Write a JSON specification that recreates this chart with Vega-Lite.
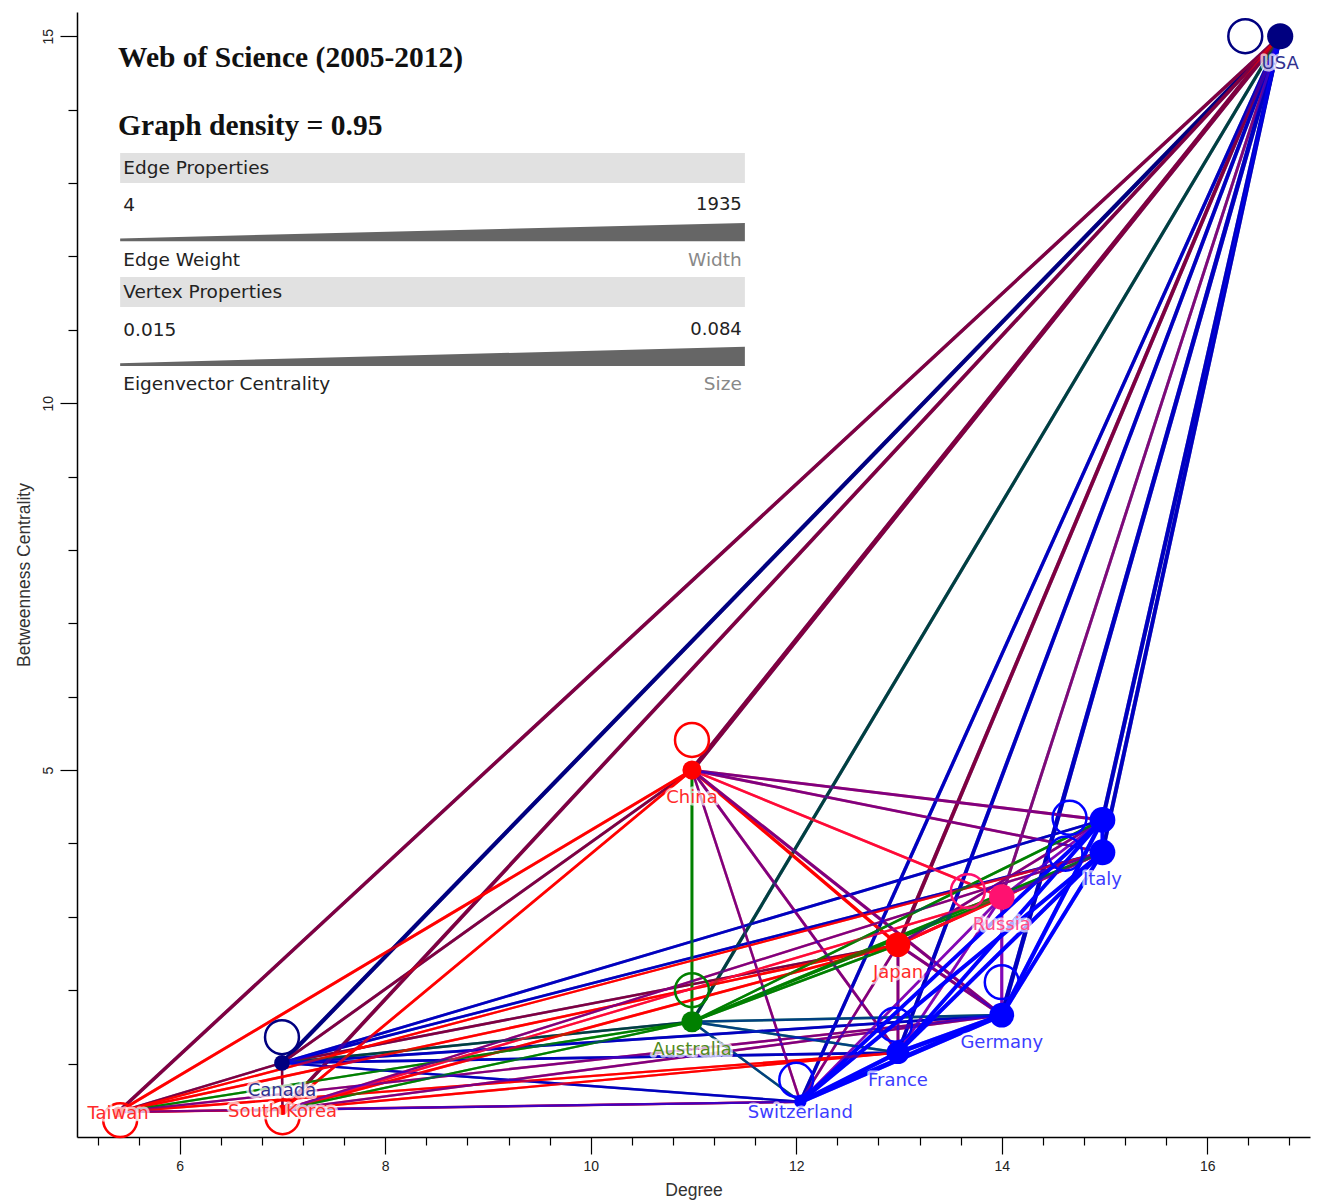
{
  "$schema": "https://vega.github.io/schema/vega-lite/v6.json",
  "width": 1233,
  "height": 1125,
  "autosize": {"type": "none"},
  "padding": {"left": 77, "top": 12, "right": 10, "bottom": 67},
  "background": "white",
  "config": {
    "view": {"stroke": null},
    "axis": {
      "domainColor": "#000", "tickColor": "#000", "domainWidth": 1.5, "tickWidth": 1.2, "grid": false,
      "labelFont": "Liberation Sans", "labelFontSize": 14, "labelColor": "#222",
      "titleFont": "Liberation Sans", "titleFontSize": 17.5, "titleFontWeight": "normal", "titleColor": "#333"
    }
  },
  "datasets": {
    "nodes": [
      {"name": "USA", "label": "USA", "region": "North America", "deg": 16.71, "btw": 15.0, "eig": 0.082},
      {"name": "China", "label": "China", "region": "East Asia", "deg": 10.985, "btw": 5.0, "eig": 0.045},
      {"name": "Italy", "label": "Italy", "region": "Europe", "deg": 14.98, "btw": 3.88, "eig": 0.08},
      {"name": "Node13", "label": "", "region": "Europe", "deg": 14.98, "btw": 4.32, "eig": 0.08},
      {"name": "Russia", "label": "Russia", "region": "Russia", "deg": 14.0, "btw": 3.27, "eig": 0.078},
      {"name": "Japan", "label": "Japan", "region": "East Asia", "deg": 12.99, "btw": 2.62, "eig": 0.074},
      {"name": "Germany", "label": "Germany", "region": "Europe", "deg": 14.0, "btw": 1.66, "eig": 0.074},
      {"name": "Australia", "label": "Australia", "region": "Oceania", "deg": 10.985, "btw": 1.57, "eig": 0.054},
      {"name": "France", "label": "France", "region": "Europe", "deg": 12.99, "btw": 1.15, "eig": 0.064},
      {"name": "Canada", "label": "Canada", "region": "North America", "deg": 6.995, "btw": 1.01, "eig": 0.031},
      {"name": "Switzerland", "label": "Switzerland", "region": "Europe", "deg": 12.04, "btw": 0.48, "eig": 0.02},
      {"name": "South Korea", "label": "South Korea", "region": "East Asia", "deg": 7.0, "btw": 0.37, "eig": 0.015},
      {"name": "Taiwan", "label": "Taiwan", "region": "East Asia", "deg": 5.4, "btw": 0.34, "eig": 0.015}
    ],
    "loops": [
      {"name": "USA", "region": "North America", "lx": 16.37, "ly": 15.0},
      {"name": "China", "region": "East Asia", "lx": 10.985, "ly": 5.41},
      {"name": "Canada", "region": "North America", "lx": 6.995, "ly": 1.36},
      {"name": "Australia", "region": "Oceania", "lx": 10.985, "ly": 2.0},
      {"name": "Germany", "region": "Europe", "lx": 14.0, "ly": 2.11},
      {"name": "Node13", "region": "Europe", "lx": 14.66, "ly": 4.35},
      {"name": "Italy", "region": "Europe", "lx": 14.62, "ly": 3.86},
      {"name": "Switzerland", "region": "Europe", "lx": 12.0, "ly": 0.78},
      {"name": "Taiwan", "region": "East Asia", "lx": 5.42, "ly": 0.23},
      {"name": "South Korea", "region": "East Asia", "lx": 7.0, "ly": 0.27},
      {"name": "France", "region": "Europe", "lx": 12.96, "ly": 1.53},
      {"name": "Russia", "region": "Russia", "lx": 13.67, "ly": 3.35}
    ],
    "edges": [
      {"s": "USA", "t": "Canada", "w": 1100, "sx": 16.71, "sy": 15.0, "sg": "North America", "tx": 6.995, "ty": 1.01, "tg": "North America"},
      {"s": "USA", "t": "China", "w": 1500, "sx": 16.71, "sy": 15.0, "sg": "North America", "tx": 10.985, "ty": 5.0, "tg": "East Asia"},
      {"s": "USA", "t": "Japan", "w": 900, "sx": 16.71, "sy": 15.0, "sg": "North America", "tx": 12.99, "ty": 2.62, "tg": "East Asia"},
      {"s": "USA", "t": "Taiwan", "w": 700, "sx": 16.71, "sy": 15.0, "sg": "North America", "tx": 5.4, "ty": 0.34, "tg": "East Asia"},
      {"s": "USA", "t": "South Korea", "w": 800, "sx": 16.71, "sy": 15.0, "sg": "North America", "tx": 7.0, "ty": 0.37, "tg": "East Asia"},
      {"s": "USA", "t": "Russia", "w": 400, "sx": 16.71, "sy": 15.0, "sg": "North America", "tx": 14.0, "ty": 3.27, "tg": "Russia"},
      {"s": "USA", "t": "Australia", "w": 600, "sx": 16.71, "sy": 15.0, "sg": "North America", "tx": 10.985, "ty": 1.57, "tg": "Oceania"},
      {"s": "USA", "t": "Germany", "w": 1300, "sx": 16.71, "sy": 15.0, "sg": "North America", "tx": 14.0, "ty": 1.66, "tg": "Europe"},
      {"s": "USA", "t": "France", "w": 900, "sx": 16.71, "sy": 15.0, "sg": "North America", "tx": 12.99, "ty": 1.15, "tg": "Europe"},
      {"s": "USA", "t": "Italy", "w": 1000, "sx": 16.71, "sy": 15.0, "sg": "North America", "tx": 14.98, "ty": 3.88, "tg": "Europe"},
      {"s": "USA", "t": "Node13", "w": 1100, "sx": 16.71, "sy": 15.0, "sg": "North America", "tx": 14.98, "ty": 4.32, "tg": "Europe"},
      {"s": "USA", "t": "Switzerland", "w": 700, "sx": 16.71, "sy": 15.0, "sg": "North America", "tx": 12.04, "ty": 0.48, "tg": "Europe"},
      {"s": "Canada", "t": "China", "w": 400, "sx": 6.995, "sy": 1.01, "sg": "North America", "tx": 10.985, "ty": 5.0, "tg": "East Asia"},
      {"s": "Canada", "t": "Japan", "w": 200, "sx": 6.995, "sy": 1.01, "sg": "North America", "tx": 12.99, "ty": 2.62, "tg": "East Asia"},
      {"s": "Canada", "t": "Taiwan", "w": 100, "sx": 6.995, "sy": 1.01, "sg": "North America", "tx": 5.4, "ty": 0.34, "tg": "East Asia"},
      {"s": "Canada", "t": "South Korea", "w": 150, "sx": 6.995, "sy": 1.01, "sg": "North America", "tx": 7.0, "ty": 0.37, "tg": "East Asia"},
      {"s": "Canada", "t": "Australia", "w": 200, "sx": 6.995, "sy": 1.01, "sg": "North America", "tx": 10.985, "ty": 1.57, "tg": "Oceania"},
      {"s": "Canada", "t": "Germany", "w": 300, "sx": 6.995, "sy": 1.01, "sg": "North America", "tx": 14.0, "ty": 1.66, "tg": "Europe"},
      {"s": "Canada", "t": "France", "w": 300, "sx": 6.995, "sy": 1.01, "sg": "North America", "tx": 12.99, "ty": 1.15, "tg": "Europe"},
      {"s": "Canada", "t": "Italy", "w": 250, "sx": 6.995, "sy": 1.01, "sg": "North America", "tx": 14.98, "ty": 3.88, "tg": "Europe"},
      {"s": "Canada", "t": "Node13", "w": 300, "sx": 6.995, "sy": 1.01, "sg": "North America", "tx": 14.98, "ty": 4.32, "tg": "Europe"},
      {"s": "Canada", "t": "Switzerland", "w": 150, "sx": 6.995, "sy": 1.01, "sg": "North America", "tx": 12.04, "ty": 0.48, "tg": "Europe"},
      {"s": "China", "t": "Japan", "w": 600, "sx": 10.985, "sy": 5.0, "sg": "East Asia", "tx": 12.99, "ty": 2.62, "tg": "East Asia"},
      {"s": "China", "t": "Taiwan", "w": 400, "sx": 10.985, "sy": 5.0, "sg": "East Asia", "tx": 5.4, "ty": 0.34, "tg": "East Asia"},
      {"s": "China", "t": "South Korea", "w": 300, "sx": 10.985, "sy": 5.0, "sg": "East Asia", "tx": 7.0, "ty": 0.37, "tg": "East Asia"},
      {"s": "China", "t": "Russia", "w": 200, "sx": 10.985, "sy": 5.0, "sg": "East Asia", "tx": 14.0, "ty": 3.27, "tg": "Russia"},
      {"s": "China", "t": "Australia", "w": 350, "sx": 10.985, "sy": 5.0, "sg": "Oceania", "tx": 10.985, "ty": 1.57, "tg": "Oceania"},
      {"s": "China", "t": "Germany", "w": 500, "sx": 10.985, "sy": 5.0, "sg": "East Asia", "tx": 14.0, "ty": 1.66, "tg": "Europe"},
      {"s": "China", "t": "France", "w": 350, "sx": 10.985, "sy": 5.0, "sg": "East Asia", "tx": 12.99, "ty": 1.15, "tg": "Europe"},
      {"s": "China", "t": "Italy", "w": 300, "sx": 10.985, "sy": 5.0, "sg": "East Asia", "tx": 14.98, "ty": 3.88, "tg": "Europe"},
      {"s": "China", "t": "Node13", "w": 400, "sx": 10.985, "sy": 5.0, "sg": "East Asia", "tx": 14.98, "ty": 4.32, "tg": "Europe"},
      {"s": "China", "t": "Switzerland", "w": 200, "sx": 10.985, "sy": 5.0, "sg": "East Asia", "tx": 12.04, "ty": 0.48, "tg": "Europe"},
      {"s": "Japan", "t": "Taiwan", "w": 200, "sx": 12.99, "sy": 2.62, "sg": "East Asia", "tx": 5.4, "ty": 0.34, "tg": "East Asia"},
      {"s": "Japan", "t": "South Korea", "w": 300, "sx": 12.99, "sy": 2.62, "sg": "East Asia", "tx": 7.0, "ty": 0.37, "tg": "East Asia"},
      {"s": "Japan", "t": "Russia", "w": 250, "sx": 12.99, "sy": 2.62, "sg": "East Asia", "tx": 14.0, "ty": 3.27, "tg": "Russia"},
      {"s": "Japan", "t": "Australia", "w": 150, "sx": 12.99, "sy": 2.62, "sg": "Oceania", "tx": 10.985, "ty": 1.57, "tg": "Oceania"},
      {"s": "Japan", "t": "Germany", "w": 500, "sx": 12.99, "sy": 2.62, "sg": "East Asia", "tx": 14.0, "ty": 1.66, "tg": "Europe"},
      {"s": "Japan", "t": "France", "w": 400, "sx": 12.99, "sy": 2.62, "sg": "East Asia", "tx": 12.99, "ty": 1.15, "tg": "Europe"},
      {"s": "Japan", "t": "Italy", "w": 300, "sx": 12.99, "sy": 2.62, "sg": "East Asia", "tx": 14.98, "ty": 3.88, "tg": "East Asia"},
      {"s": "Japan", "t": "Node13", "w": 300, "sx": 12.99, "sy": 2.62, "sg": "East Asia", "tx": 14.98, "ty": 4.32, "tg": "Europe"},
      {"s": "Japan", "t": "Switzerland", "w": 250, "sx": 12.99, "sy": 2.62, "sg": "East Asia", "tx": 12.04, "ty": 0.48, "tg": "Europe"},
      {"s": "Taiwan", "t": "South Korea", "w": 60, "sx": 5.4, "sy": 0.34, "sg": "East Asia", "tx": 7.0, "ty": 0.37, "tg": "East Asia"},
      {"s": "Taiwan", "t": "Australia", "w": 60, "sx": 5.4, "sy": 0.34, "sg": "Oceania", "tx": 10.985, "ty": 1.57, "tg": "Oceania"},
      {"s": "Taiwan", "t": "Germany", "w": 100, "sx": 5.4, "sy": 0.34, "sg": "East Asia", "tx": 14.0, "ty": 1.66, "tg": "Europe"},
      {"s": "Taiwan", "t": "France", "w": 80, "sx": 5.4, "sy": 0.34, "sg": "East Asia", "tx": 12.99, "ty": 1.15, "tg": "East Asia"},
      {"s": "Taiwan", "t": "Italy", "w": 80, "sx": 5.4, "sy": 0.34, "sg": "East Asia", "tx": 14.98, "ty": 3.88, "tg": "East Asia"},
      {"s": "Taiwan", "t": "Switzerland", "w": 50, "sx": 5.4, "sy": 0.34, "sg": "East Asia", "tx": 12.04, "ty": 0.48, "tg": "Europe"},
      {"s": "South Korea", "t": "Russia", "w": 80, "sx": 7.0, "sy": 0.37, "sg": "East Asia", "tx": 14.0, "ty": 3.27, "tg": "Russia"},
      {"s": "South Korea", "t": "Australia", "w": 80, "sx": 7.0, "sy": 0.37, "sg": "Oceania", "tx": 10.985, "ty": 1.57, "tg": "Oceania"},
      {"s": "South Korea", "t": "Germany", "w": 150, "sx": 7.0, "sy": 0.37, "sg": "East Asia", "tx": 14.0, "ty": 1.66, "tg": "Europe"},
      {"s": "South Korea", "t": "France", "w": 100, "sx": 7.0, "sy": 0.37, "sg": "East Asia", "tx": 12.99, "ty": 1.15, "tg": "East Asia"},
      {"s": "South Korea", "t": "Italy", "w": 80, "sx": 7.0, "sy": 0.37, "sg": "East Asia", "tx": 14.98, "ty": 3.88, "tg": "Europe"},
      {"s": "South Korea", "t": "Switzerland", "w": 60, "sx": 7.0, "sy": 0.37, "sg": "East Asia", "tx": 12.04, "ty": 0.48, "tg": "Europe"},
      {"s": "Russia", "t": "Australia", "w": 80, "sx": 14.0, "sy": 3.27, "sg": "Oceania", "tx": 10.985, "ty": 1.57, "tg": "Oceania"},
      {"s": "Russia", "t": "Germany", "w": 500, "sx": 14.0, "sy": 3.27, "sg": "Russia", "tx": 14.0, "ty": 1.66, "tg": "Europe"},
      {"s": "Russia", "t": "France", "w": 350, "sx": 14.0, "sy": 3.27, "sg": "Russia", "tx": 12.99, "ty": 1.15, "tg": "Europe"},
      {"s": "Russia", "t": "Italy", "w": 300, "sx": 14.0, "sy": 3.27, "sg": "Russia", "tx": 14.98, "ty": 3.88, "tg": "Europe"},
      {"s": "Russia", "t": "Node13", "w": 300, "sx": 14.0, "sy": 3.27, "sg": "Russia", "tx": 14.98, "ty": 4.32, "tg": "Europe"},
      {"s": "Russia", "t": "Switzerland", "w": 250, "sx": 14.0, "sy": 3.27, "sg": "Russia", "tx": 12.04, "ty": 0.48, "tg": "Europe"},
      {"s": "Australia", "t": "Germany", "w": 250, "sx": 10.985, "sy": 1.57, "sg": "Oceania", "tx": 14.0, "ty": 1.66, "tg": "Europe"},
      {"s": "Australia", "t": "France", "w": 200, "sx": 10.985, "sy": 1.57, "sg": "Oceania", "tx": 12.99, "ty": 1.15, "tg": "Europe"},
      {"s": "Australia", "t": "Italy", "w": 180, "sx": 10.985, "sy": 1.57, "sg": "Oceania", "tx": 14.98, "ty": 3.88, "tg": "Oceania"},
      {"s": "Australia", "t": "Node13", "w": 200, "sx": 10.985, "sy": 1.57, "sg": "Oceania", "tx": 14.98, "ty": 4.32, "tg": "Oceania"},
      {"s": "Australia", "t": "Switzerland", "w": 150, "sx": 10.985, "sy": 1.57, "sg": "Oceania", "tx": 12.04, "ty": 0.48, "tg": "Europe"},
      {"s": "Germany", "t": "France", "w": 1300, "sx": 14.0, "sy": 1.66, "sg": "Europe", "tx": 12.99, "ty": 1.15, "tg": "Europe"},
      {"s": "Germany", "t": "Italy", "w": 1000, "sx": 14.0, "sy": 1.66, "sg": "Europe", "tx": 14.98, "ty": 3.88, "tg": "Europe"},
      {"s": "Germany", "t": "Node13", "w": 1100, "sx": 14.0, "sy": 1.66, "sg": "Europe", "tx": 14.98, "ty": 4.32, "tg": "Europe"},
      {"s": "Germany", "t": "Switzerland", "w": 1500, "sx": 14.0, "sy": 1.66, "sg": "Europe", "tx": 12.04, "ty": 0.48, "tg": "Europe"},
      {"s": "France", "t": "Italy", "w": 1000, "sx": 12.99, "sy": 1.15, "sg": "Europe", "tx": 14.98, "ty": 3.88, "tg": "Europe"},
      {"s": "France", "t": "Node13", "w": 900, "sx": 12.99, "sy": 1.15, "sg": "Europe", "tx": 14.98, "ty": 4.32, "tg": "Europe"},
      {"s": "France", "t": "Switzerland", "w": 1200, "sx": 12.99, "sy": 1.15, "sg": "Europe", "tx": 12.04, "ty": 0.48, "tg": "Europe"},
      {"s": "Italy", "t": "Node13", "w": 900, "sx": 14.98, "sy": 3.88, "sg": "Europe", "tx": 14.98, "ty": 4.32, "tg": "Europe"},
      {"s": "Italy", "t": "Switzerland", "w": 1000, "sx": 14.98, "sy": 3.88, "sg": "Europe", "tx": 12.04, "ty": 0.48, "tg": "Europe"},
      {"s": "Node13", "t": "Switzerland", "w": 900, "sx": 14.98, "sy": 4.32, "sg": "Europe", "tx": 12.04, "ty": 0.48, "tg": "Europe"}
    ]
  },
  "resolve": {"scale": {"color": "independent"}, "axis": {"x": "independent", "y": "independent"}},
  "layer": [
    {
      "data": {"name": "edges"},
      "mark": {"type": "rule"},
      "encoding": {
        "x": {"field": "sx", "type": "quantitative", "scale": {"domain": [5, 17], "nice": false, "zero": false},
              "axis": {"orient": "bottom", "values": [6, 8, 10, 12, 14, 16], "title": "Degree", "tickSize": 17, "labelPadding": 5, "titlePadding": 8}},
        "y": {"field": "sy", "type": "quantitative", "scale": {"domain": [0, 15.33], "nice": false, "zero": false},
              "axis": {"orient": "left", "values": [5, 10, 15], "title": "Betweenness Centrality", "tickSize": 17, "labelAngle": 270, "labelPadding": 5, "titlePadding": 8}},
        "x2": {"field": "tx"},
        "y2": {"field": "ty"},
        "color": {"field": "sg", "type": "nominal", "legend": null,
                  "scale": {"domain": ["North America", "East Asia", "Russia", "Oceania", "Europe"], "range": ["#000080", "#ff0000", "#ff1170", "#008000", "#0000ff"]}},
        "strokeWidth": {"field": "w", "type": "quantitative", "legend": null, "scale": {"domain": [4, 1935], "range": [2.2, 5.5]}}
      }
    },
    {
      "data": {"name": "edges"},
      "mark": {"type": "rule", "opacity": 0.5},
      "encoding": {
        "x": {"field": "sx", "type": "quantitative", "scale": {"domain": [5, 17], "nice": false, "zero": false}, "axis": null},
        "y": {"field": "sy", "type": "quantitative", "scale": {"domain": [0, 15.33], "nice": false, "zero": false}, "axis": null},
        "x2": {"field": "tx"},
        "y2": {"field": "ty"},
        "color": {"field": "tg", "type": "nominal", "legend": null,
                  "scale": {"domain": ["North America", "East Asia", "Russia", "Oceania", "Europe"], "range": ["#000080", "#ff0000", "#ff1170", "#008000", "#0000ff"]}},
        "strokeWidth": {"field": "w", "type": "quantitative", "legend": null, "scale": {"domain": [4, 1935], "range": [2.2, 5.5]}}
      }
    },
    {
      "data": {"name": "loops"},
      "mark": {"type": "point", "shape": "circle", "filled": false, "strokeWidth": 2.5, "size": 1150, "opacity": 1},
      "encoding": {
        "x": {"field": "lx", "type": "quantitative", "scale": {"domain": [5, 17], "nice": false, "zero": false}, "axis": null},
        "y": {"field": "ly", "type": "quantitative", "scale": {"domain": [0, 15.33], "nice": false, "zero": false}, "axis": null},
        "color": {"field": "region", "type": "nominal", "legend": null,
                  "scale": {"domain": ["North America", "East Asia", "Russia", "Oceania", "Europe"], "range": ["#000080", "#ff0000", "#ff1170", "#008000", "#0000ff"]}}
      }
    },
    {
      "data": {"name": "nodes"},
      "mark": {"type": "point", "shape": "circle", "filled": true, "opacity": 1},
      "encoding": {
        "x": {"field": "deg", "type": "quantitative", "scale": {"domain": [5, 17], "nice": false, "zero": false}, "axis": null},
        "y": {"field": "btw", "type": "quantitative", "scale": {"domain": [0, 15.33], "nice": false, "zero": false}, "axis": null},
        "color": {"field": "region", "type": "nominal", "legend": null,
                  "scale": {"domain": ["North America", "East Asia", "Russia", "Oceania", "Europe"], "range": ["#000080", "#ff0000", "#ff1170", "#008000", "#0000ff"]}},
        "size": {"field": "eig", "type": "quantitative", "legend": null, "scale": {"domain": [0.015, 0.084], "range": [110, 700]}}
      }
    },
    {
      "data": {"name": "nodes"},
      "transform": [{"filter": {"not": {"field": "name", "oneOf": ["Taiwan", "South Korea", "Switzerland"]}}}],
      "mark": {"type": "text", "dy": 28, "font": "DejaVu Sans", "fontSize": 18, "stroke": "white", "strokeWidth": 5, "strokeOpacity": 0.7, "strokeJoin": "round", "fill": "white", "fillOpacity": 0.7},
      "encoding": {
        "x": {"field": "deg", "type": "quantitative", "scale": {"domain": [5, 17], "nice": false, "zero": false}, "axis": null},
        "y": {"field": "btw", "type": "quantitative", "scale": {"domain": [0, 15.33], "nice": false, "zero": false}, "axis": null},
        "text": {"field": "label"}
      }
    },
    {
      "data": {"name": "nodes"},
      "transform": [{"filter": {"field": "name", "oneOf": ["Taiwan", "South Korea"]}}],
      "mark": {"type": "text", "dy": 2, "font": "DejaVu Sans", "fontSize": 18, "stroke": "white", "strokeWidth": 5, "strokeOpacity": 0.7, "strokeJoin": "round", "fill": "white", "fillOpacity": 0.7},
      "encoding": {
        "x": {"field": "deg", "type": "quantitative", "scale": {"domain": [5, 17], "nice": false, "zero": false}, "axis": null},
        "y": {"field": "btw", "type": "quantitative", "scale": {"domain": [0, 15.33], "nice": false, "zero": false}, "axis": null},
        "text": {"field": "label"}
      }
    },
    {
      "data": {"name": "nodes"},
      "transform": [{"filter": {"field": "name", "oneOf": ["Switzerland"]}}],
      "mark": {"type": "text", "dy": 11, "font": "DejaVu Sans", "fontSize": 18, "stroke": "white", "strokeWidth": 5, "strokeOpacity": 0.7, "strokeJoin": "round", "fill": "white", "fillOpacity": 0.7},
      "encoding": {
        "x": {"field": "deg", "type": "quantitative", "scale": {"domain": [5, 17], "nice": false, "zero": false}, "axis": null},
        "y": {"field": "btw", "type": "quantitative", "scale": {"domain": [0, 15.33], "nice": false, "zero": false}, "axis": null},
        "text": {"field": "label"}
      }
    },
    {
      "data": {"name": "nodes"},
      "transform": [{"filter": {"not": {"field": "name", "oneOf": ["Taiwan", "South Korea", "Switzerland"]}}}],
      "mark": {"type": "text", "dy": 28, "font": "DejaVu Sans", "fontSize": 18},
      "encoding": {
        "x": {"field": "deg", "type": "quantitative", "scale": {"domain": [5, 17], "nice": false, "zero": false}, "axis": null},
        "y": {"field": "btw", "type": "quantitative", "scale": {"domain": [0, 15.33], "nice": false, "zero": false}, "axis": null},
        "text": {"field": "label"},
        "color": {"field": "region", "type": "nominal", "legend": null,
                  "scale": {"domain": ["North America", "East Asia", "Russia", "Oceania", "Europe"], "range": ["#30308f", "#ff2a2a", "#ff4a88", "#4f8a1c", "#3c3cff"]}}
      }
    },
    {
      "data": {"name": "nodes"},
      "transform": [{"filter": {"field": "name", "oneOf": ["Taiwan", "South Korea"]}}],
      "mark": {"type": "text", "dy": 2, "font": "DejaVu Sans", "fontSize": 18, "color": "#ff2a2a"},
      "encoding": {
        "x": {"field": "deg", "type": "quantitative", "scale": {"domain": [5, 17], "nice": false, "zero": false}, "axis": null},
        "y": {"field": "btw", "type": "quantitative", "scale": {"domain": [0, 15.33], "nice": false, "zero": false}, "axis": null},
        "text": {"field": "label"}
      }
    },
    {
      "data": {"name": "nodes"},
      "transform": [{"filter": {"field": "name", "oneOf": ["Switzerland"]}}],
      "mark": {"type": "text", "dy": 11, "font": "DejaVu Sans", "fontSize": 18, "color": "#3c3cff"},
      "encoding": {
        "x": {"field": "deg", "type": "quantitative", "scale": {"domain": [5, 17], "nice": false, "zero": false}, "axis": null},
        "y": {"field": "btw", "type": "quantitative", "scale": {"domain": [0, 15.33], "nice": false, "zero": false}, "axis": null},
        "text": {"field": "label"}
      }
    },
    {
      "data": {"values": [
        {"x": 5.42, "x2": 11.5, "y": 13.41, "y2": 13.0},
        {"x": 5.42, "x2": 11.5, "y": 11.72, "y2": 11.31}
      ]},
      "mark": {"type": "rect", "color": "#e1e1e1"},
      "encoding": {
        "x": {"field": "x", "type": "quantitative", "scale": {"domain": [5, 17], "nice": false, "zero": false}, "axis": null},
        "x2": {"field": "x2"},
        "y": {"field": "y", "type": "quantitative", "scale": {"domain": [0, 15.33], "nice": false, "zero": false}, "axis": null},
        "y2": {"field": "y2"}
      }
    },
    {
      "data": {"values": [
        {"item": "edge", "x": 5.42, "top": 12.245, "bottom": 12.205},
        {"item": "edge", "x": 11.5, "top": 12.455, "bottom": 12.205},
        {"item": "vertex", "x": 5.42, "top": 10.545, "bottom": 10.505},
        {"item": "vertex", "x": 11.5, "top": 10.77, "bottom": 10.505}
      ]},
      "mark": {"type": "area", "color": "#666666", "opacity": 1},
      "encoding": {
        "x": {"field": "x", "type": "quantitative", "scale": {"domain": [5, 17], "nice": false, "zero": false}, "axis": null},
        "y": {"field": "top", "type": "quantitative", "scale": {"domain": [0, 15.33], "nice": false, "zero": false}, "axis": null},
        "y2": {"field": "bottom"},
        "detail": {"field": "item"}
      }
    },
    {
      "data": {"values": [
        {"x": 5.45, "y": 13.205, "t": "Edge Properties"},
        {"x": 5.45, "y": 12.70, "t": "4"},
        {"x": 5.45, "y": 11.95, "t": "Edge Weight"},
        {"x": 5.45, "y": 11.515, "t": "Vertex Properties"},
        {"x": 5.45, "y": 11.0, "t": "0.015"},
        {"x": 5.45, "y": 10.26, "t": "Eigenvector Centrality"}
      ]},
      "mark": {"type": "text", "align": "left", "baseline": "middle", "font": "DejaVu Sans", "fontSize": 18.5, "color": "#222"},
      "encoding": {
        "x": {"field": "x", "type": "quantitative", "scale": {"domain": [5, 17], "nice": false, "zero": false}, "axis": null},
        "y": {"field": "y", "type": "quantitative", "scale": {"domain": [0, 15.33], "nice": false, "zero": false}, "axis": null},
        "text": {"field": "t"}
      }
    },
    {
      "data": {"values": [
        {"x": 11.47, "y": 12.70, "t": "1935"},
        {"x": 11.47, "y": 11.0, "t": "0.084"}
      ]},
      "mark": {"type": "text", "align": "right", "baseline": "middle", "font": "DejaVu Sans", "fontSize": 18, "color": "#222"},
      "encoding": {
        "x": {"field": "x", "type": "quantitative", "scale": {"domain": [5, 17], "nice": false, "zero": false}, "axis": null},
        "y": {"field": "y", "type": "quantitative", "scale": {"domain": [0, 15.33], "nice": false, "zero": false}, "axis": null},
        "text": {"field": "t"}
      }
    },
    {
      "data": {"values": [
        {"x": 11.47, "y": 11.95, "t": "Width"},
        {"x": 11.47, "y": 10.26, "t": "Size"}
      ]},
      "mark": {"type": "text", "align": "right", "baseline": "middle", "font": "DejaVu Sans", "fontSize": 18.5, "color": "#888"},
      "encoding": {
        "x": {"field": "x", "type": "quantitative", "scale": {"domain": [5, 17], "nice": false, "zero": false}, "axis": null},
        "y": {"field": "y", "type": "quantitative", "scale": {"domain": [0, 15.33], "nice": false, "zero": false}, "axis": null},
        "text": {"field": "t"}
      }
    },
    {
      "data": {"values": [
        {"x": 5.4, "y": 14.70, "t": "Web of Science (2005-2012)"},
        {"x": 5.4, "y": 13.78, "t": "Graph density = 0.95"}
      ]},
      "mark": {"type": "text", "align": "left", "baseline": "middle", "font": "Liberation Serif", "fontWeight": "bold", "fontSize": 29.5, "color": "#111"},
      "encoding": {
        "x": {"field": "x", "type": "quantitative", "scale": {"domain": [5, 17], "nice": false, "zero": false}, "axis": null},
        "y": {"field": "y", "type": "quantitative", "scale": {"domain": [0, 15.33], "nice": false, "zero": false}, "axis": null},
        "text": {"field": "t"}
      }
    },
    {
      "data": {"name": "nodes"},
      "mark": {"type": "point", "opacity": 0},
      "encoding": {
        "x": {"field": "deg", "type": "quantitative", "scale": {"domain": [5, 17], "nice": false, "zero": false},
              "axis": {"orient": "bottom", "values": [5.2, 5.6, 6.4, 6.8, 7.2, 7.6, 8.4, 8.8, 9.2, 9.6, 10.4, 10.8, 11.2, 11.6, 12.4, 12.8, 13.2, 13.6, 14.4, 14.8, 15.2, 15.6, 16.4, 16.8], "labels": false, "domain": false, "tickSize": 8, "title": null}},
        "y": {"field": "btw", "type": "quantitative", "scale": {"domain": [0, 15.33], "nice": false, "zero": false},
              "axis": {"orient": "left", "values": [1, 2, 3, 4, 6, 7, 8, 9, 11, 12, 13, 14], "labels": false, "domain": false, "tickSize": 9, "title": null}}
      }
    }
  ]
}
